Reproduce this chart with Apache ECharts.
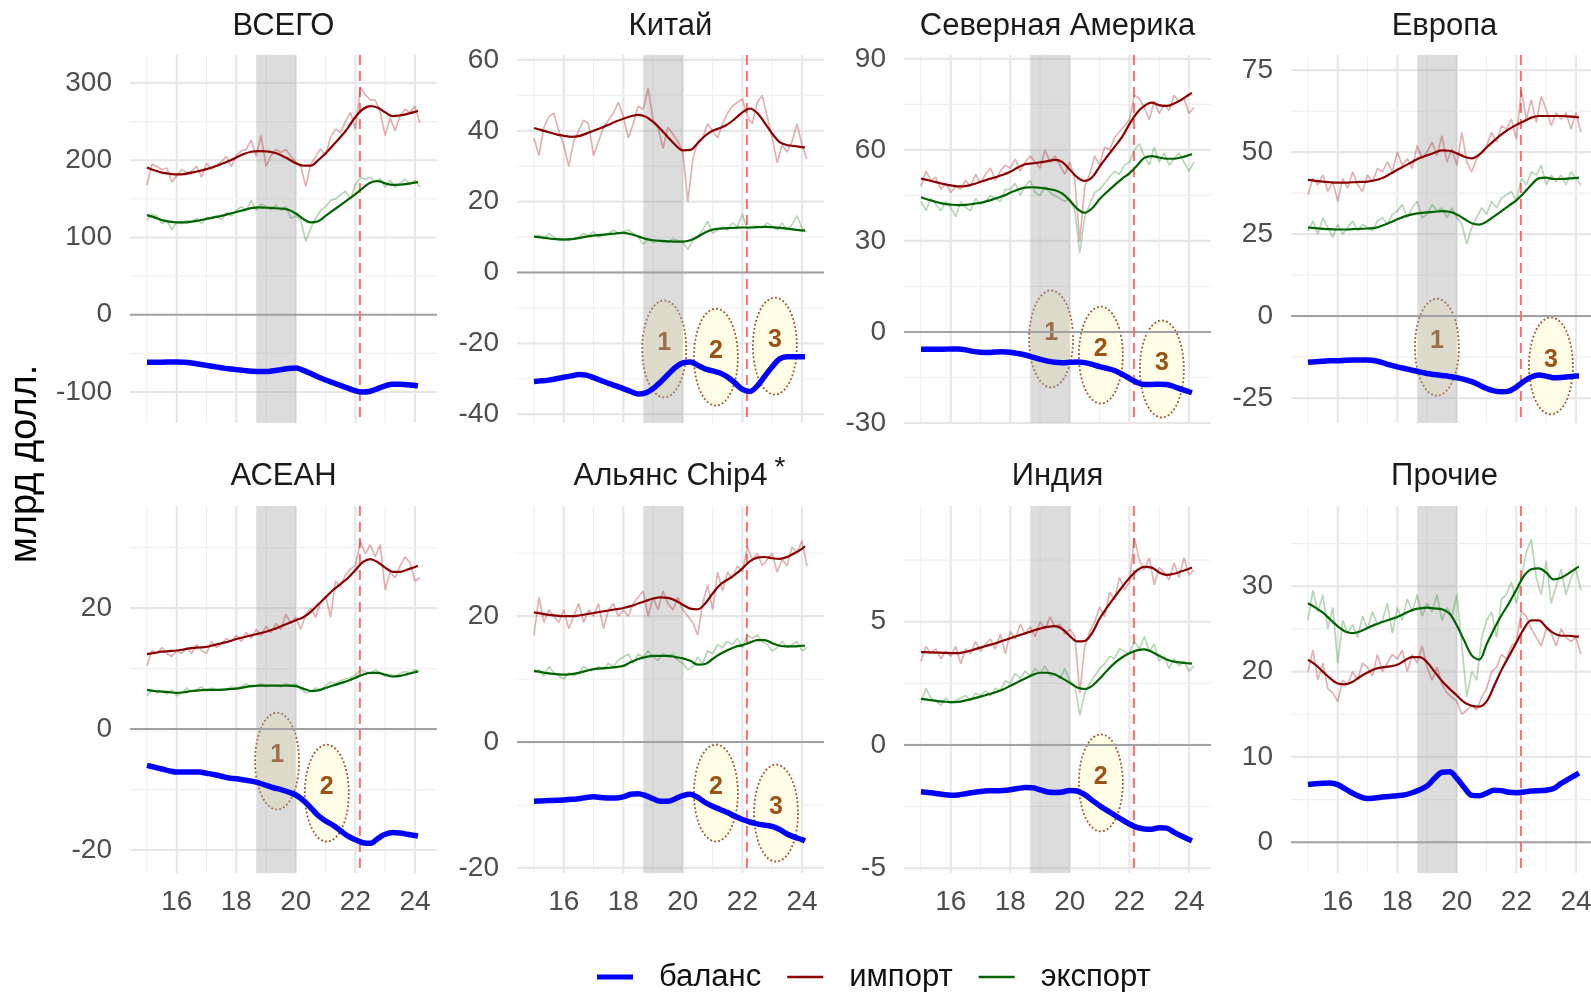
<!DOCTYPE html>
<html><head><meta charset="utf-8">
<script src="https://cdn.jsdelivr.net/npm/echarts@6/dist/echarts.min.js"></script>
<style>html,body{margin:0;padding:0;background:#fff;}#chart{width:1591px;height:992px;}</style>
</head><body><div id="chart"></div>
<script>
// ---------- shared axis data ----------
const X_MIN = 14.43, X_MAX = 24.74;
const SHADE_FROM = 18.67, SHADE_TO = 20.0, WAR_X = 22.15;
const gridYears = [15, 16, 17, 18, 19, 20, 21, 22, 23, 24];
const xTickLabels = [16, 18, 20, 22, 24];
// smoothed (trend) series knots, years 20xx
const knotX = [15, 15.25, 15.5, 15.75, 16, 16.25, 16.5, 16.75, 17, 17.25, 17.5, 17.75, 18, 18.25, 18.5, 18.75, 19, 19.25, 19.5, 19.75, 20, 20.25, 20.5, 20.75, 21, 21.25, 21.5, 21.75, 22, 22.25, 22.5, 22.75, 23, 23.25, 23.5, 23.75, 24, 24.1];
// raw (noisy) series: one reading every two months from Jan 2015
const RAW_START = 15, RAW_STEP = 1 / 6, RAW_COUNT = 56;

// ---------- ВСЕГО ----------
const totalImport = [190.7,187,184,182.5,181.7,182,184,186,188.5,191.5,195,199,203.6,208,211,211.8,211.4,210,206.6,201.5,196,193,193,200,209,219.5,230,242,256,266,270,268,262,257,258,260,262.6,264];
const totalExport = [129,126,122.5,120.5,119.5,119.5,120.5,122,124,126,128,130.5,133,135.5,138,139,138.5,138,137.5,136,131,124,119.5,121,128,135,142,149,156,164,171,173,170,168,168.5,169.5,171,172];
const totalBalance = [-61.5,-61.5,-61.5,-61,-61,-61.5,-62.5,-64,-65.5,-67,-68.5,-70,-71,-72,-73,-73.5,-73.5,-72.5,-71,-69.5,-69,-72,-76,-80.5,-84.5,-88,-91.5,-95,-98.5,-100,-99,-95.5,-92,-90,-90,-90.5,-91.5,-92];
const totalImportRaw = [168,195,192,188,190,172,180,188,184,186,192,178,196,188,194,198,205,192,206,212,214,226,205,232,192,206,214,210,214,205,198,192,166,195,205,215,206,230,240,236,250,262,240,294,285,278,278,262,232,255,238,258,266,262,270,248];
const totalExportRaw = [122,130,128,118,122,110,120,118,122,120,125,118,126,125,128,123,132,128,135,140,135,148,135,143,140,136,142,135,140,125,128,122,95,112,125,135,140,148,150,155,160,150,168,178,175,178,172,176,165,174,165,170,176,168,174,165];

// ---------- Китай ----------
const chinaImport = [40.8,40.2,39.6,39.0,38.6,38.3,38.5,39.2,40.0,40.8,41.7,42.6,43.4,44.1,44.5,44.0,42.5,40.5,38.2,36.0,34.5,34.6,36.5,38.6,40.0,40.8,41.8,43.4,45.2,46.3,45.0,42.2,39.2,36.8,36.0,35.7,35.4,35.3];
const chinaExport = [10.1,9.9,9.6,9.4,9.3,9.4,9.7,10.1,10.4,10.6,10.8,11.0,11.2,10.8,10.2,9.5,9.1,8.9,8.8,8.7,8.7,9.1,10.1,11.3,12.1,12.4,12.5,12.6,12.7,12.7,12.8,12.9,12.8,12.6,12.4,12.1,11.9,11.8];
const chinaBalance = [-30.8,-30.6,-30.4,-30.0,-29.6,-29.2,-28.8,-29.0,-29.7,-30.5,-31.3,-32.0,-32.8,-33.6,-34.3,-34.0,-32.8,-30.9,-28.8,-26.8,-25.5,-25.3,-26.2,-27.2,-27.8,-28.4,-29.5,-31.2,-33.0,-33.6,-32.0,-29.3,-26.6,-24.4,-23.8,-23.8,-23.8,-23.8];
const chinaImportRaw = [38,33,41,44,45,40,36,30,37,40,43,42,33,37,41,43,45,48,44,38,42,47,46,52,43,41,35,41,39,37,34,20,32,37,38,42,40,38,42,45,47,48,49,44,42,48,50,44,38,31,36,34,37,42,36,32];
const chinaExportRaw = [10,10.5,9.5,11,10,9,9.5,9,9.5,10,11,10.5,11.5,10,10.5,11,12,11,11.5,12,11,10,8,9.5,8.5,9,9,8.5,9.5,9,8.5,6.5,9,10,12,14.5,11,12,13,12,14,13,16.5,12,13,13,12.5,14,13,12,14,12,13.5,16,12.5,11.5];

// ---------- Северная Америка ----------
const naImport = [50.6,50.0,49.4,48.8,48.3,48.0,48.1,48.7,49.5,50.3,51.0,51.8,52.8,54.2,55.3,55.6,55.9,56.3,56.7,56.0,53.5,51.0,49.8,51.0,54.5,57.8,61.0,64.2,68.5,72.2,74.5,75.6,74.8,74.5,75.3,76.6,78.2,78.8];
const naExport = [44.4,43.6,42.9,42.3,42.0,41.8,41.9,42.2,42.6,43.2,44.0,44.8,45.9,46.9,47.6,47.7,47.5,47.2,46.7,45.6,43.3,40.6,39.3,40.8,43.8,46.2,48.4,50.5,52.3,54.8,57.4,58.0,57.5,57.1,57.1,57.6,58.3,58.7];
const naBalance = [-5.7,-5.7,-5.7,-5.7,-5.6,-5.6,-5.9,-6.4,-6.7,-6.8,-6.6,-6.5,-6.7,-7.1,-7.6,-8.3,-9.0,-9.6,-10.0,-10.1,-10.0,-9.9,-10.1,-10.7,-11.4,-12.0,-12.7,-13.9,-15.3,-16.6,-17.3,-17.3,-17.2,-17.3,-18.0,-18.9,-19.7,-20.0];
const naImportRaw = [48,53,50,51,47,49,46,48,47,50,48,52,49,52,54,50,53,55,54,57,53,56,58,56,54,60,56,58,55,52,56,50,30,48,52,58,55,61,60,64,66,68,70,78,77,74,70,76,72,75,73,78,76,77,72,74];
const naExportRaw = [43,40,44,42,40,43,41,38,43,41,40,44,42,43,45,44,43,47,47,49,45,48,50,46,45,48,46,45,44,43,44,40,26,38,42,46,47,49,51,53,52,55,56,60,62,58,55,61,56,59,55,57,59,56,53,56];

// ---------- Европа ----------
const euImport = [41.5,41.2,41.0,40.8,40.7,40.7,40.8,40.9,41.0,41.4,42.1,43.3,44.6,45.8,47.0,48.2,49.0,49.8,50.5,50.4,49.6,48.6,48.1,49.2,51.4,53.5,55.4,57.0,58.3,59.4,60.5,61.0,61.0,61.0,61.0,60.9,60.7,60.6];
const euExport = [27.0,26.8,26.6,26.5,26.4,26.4,26.5,26.6,26.7,26.9,27.6,28.5,29.5,30.4,31.0,31.4,31.6,31.8,32.0,31.8,31.0,29.6,28.3,27.9,28.8,30.4,32.0,33.7,35.3,37.5,40.0,42.0,42.2,41.8,41.8,41.9,42.1,42.2];
const euBalance = [-14.1,-13.9,-13.8,-13.6,-13.6,-13.5,-13.4,-13.4,-13.4,-13.6,-14.2,-14.9,-15.5,-16.0,-16.5,-17.0,-17.5,-17.8,-18.1,-18.4,-18.8,-19.3,-20.0,-21.0,-22.1,-22.8,-23.1,-22.9,-21.6,-19.9,-18.6,-18.0,-18.3,-18.8,-18.7,-18.5,-18.3,-18.3];
const euImportRaw = [37,42,40,43,38,41,35,42,39,44,40,38,43,41,45,44,47,44,50,46,48,45,52,48,50,53,49,55,47,51,46,56,47,44,48,50,52,56,53,58,57,60,54,69,60,66,59,67,63,58,62,60,62,57,62,56];
const euExportRaw = [26,29,25,30,27,24,28,25,27,29,26,28,27,26,29,30,28,31,32,34,30,33,35,30,31,34,32,33,30,33,30,28,22,27,30,33,31,35,33,36,37,38,35,42,40,44,43,46,40,43,41,43,40,44,42,40];

// ---------- АСЕАН ----------
const aseanImport = [12.4,12.6,12.8,12.9,13.0,13.2,13.4,13.5,13.6,13.9,14.2,14.5,14.9,15.2,15.5,15.8,16.1,16.5,17.0,17.5,18.0,18.5,19.4,20.6,21.8,23.0,24.0,25.0,26.3,27.6,28.1,27.6,26.7,26.0,26.0,26.4,26.8,27.0];
const aseanExport = [6.5,6.3,6.2,6.1,6.0,6.1,6.3,6.4,6.5,6.5,6.5,6.6,6.7,6.9,7.1,7.2,7.2,7.2,7.2,7.2,7.1,6.7,6.3,6.4,6.8,7.2,7.6,8.0,8.5,9.0,9.3,9.3,9.0,8.7,8.8,9.1,9.4,9.5];
const aseanBalance = [-6.0,-6.3,-6.6,-6.9,-7.1,-7.1,-7.1,-7.1,-7.3,-7.5,-7.8,-8.1,-8.2,-8.4,-8.6,-8.9,-9.3,-9.7,-10.0,-10.4,-10.9,-11.8,-13.0,-14.3,-15.2,-15.9,-16.8,-17.7,-18.3,-18.8,-18.9,-18.1,-17.4,-17.1,-17.2,-17.4,-17.6,-17.7];
const aseanImportRaw = [10.5,13,12.5,13.5,12.5,12,13,12.5,13.5,12.5,14,13,12.5,14.5,13.5,14,15,14.5,15.5,14.5,16,15,16.5,15.5,17,16,17.5,16.5,19,17.5,18.5,16.5,19,20,18.5,21,22,18.5,24.5,23.5,25.5,26.5,27,31,29,30.5,28.5,30.5,23,26,25,27,28.5,27.5,24.5,25];
const aseanExportRaw = [5.5,6.5,6,6.3,5.8,6.5,5.5,6,6.8,6.2,6.5,7,6.3,6.8,6.5,6.6,6.5,7,6.8,7,7.5,7,7.2,7.5,7,7.3,7.2,7,7.5,7.3,7.5,6.5,6,6.2,6.8,6.5,7.2,7.8,7.5,8,8.3,8.5,9,9.8,9.5,9.2,9.8,9.3,8.7,9,8.8,9.2,9.5,9.3,9.8,9.5];

// ---------- Альянс Chip4 ----------
const chipImport = [20.6,20.4,20.2,20.1,20.0,20.0,20.1,20.3,20.5,20.7,20.9,21.1,21.3,21.6,22.0,22.4,22.8,23.0,22.9,22.5,21.8,21.2,21.1,22.0,23.6,25.0,25.8,26.6,27.6,28.7,29.3,29.4,29.2,29.1,29.4,30.0,30.7,31.1];
const chipExport = [11.3,11.1,10.9,10.8,10.7,10.8,11.0,11.3,11.6,11.7,11.8,11.9,12.1,12.7,13.2,13.5,13.7,13.7,13.7,13.5,13.3,12.9,12.3,12.4,13.2,14.0,14.6,15.1,15.4,15.8,16.2,16.2,15.7,15.3,15.2,15.2,15.3,15.3];
const chipBalance = [-9.4,-9.35,-9.3,-9.25,-9.2,-9.1,-9.0,-8.8,-8.7,-8.8,-8.9,-8.9,-8.7,-8.3,-8.2,-8.5,-9.0,-9.4,-9.4,-9.0,-8.5,-8.3,-8.8,-9.6,-10.2,-10.7,-11.2,-11.8,-12.3,-12.7,-13.0,-13.2,-13.4,-13.9,-14.6,-15.1,-15.5,-15.7];
const chipImportRaw = [17,23,19,21,20,19,21,18,20,22,19,21,20,22,18,21,22,20,21,20,22,23,24,20,23,21,24,22,21,23,21,20,19,17,22,25,21,27,24,27,26,28,27,31,29,30,28,29,30,27,29,28,31,30,32,28];
const chipExportRaw = [11,11.5,10.5,12,11,10.5,10,11,10.5,11,12,11.5,11.5,12,11.5,12.5,12,13,13.5,14,12.5,14,13.5,14.5,13.5,13,14,13.5,14,13,12.5,11.5,12,13.5,12.5,14.5,14,15.5,15,16,15.5,16.5,15,17,16.5,17,16,15.5,14.5,15,16,15,15.5,16,14.5,15];

// ---------- Индия ----------
const indiaImport = [3.77,3.76,3.75,3.74,3.73,3.73,3.78,3.86,3.95,4.04,4.13,4.23,4.33,4.43,4.53,4.63,4.72,4.79,4.82,4.70,4.42,4.20,4.22,4.55,5.13,5.58,6.0,6.4,6.78,7.08,7.23,7.20,7.0,6.9,6.95,7.05,7.15,7.2];
const indiaExport = [1.87,1.83,1.79,1.76,1.74,1.75,1.81,1.88,1.96,2.05,2.14,2.25,2.40,2.55,2.70,2.84,2.93,2.93,2.86,2.70,2.52,2.33,2.27,2.40,2.69,3.02,3.32,3.55,3.72,3.84,3.88,3.78,3.62,3.47,3.38,3.34,3.31,3.3];
const indiaBalance = [-1.90,-1.93,-1.97,-2.01,-2.04,-2.03,-1.98,-1.93,-1.89,-1.86,-1.86,-1.85,-1.82,-1.77,-1.73,-1.74,-1.82,-1.91,-1.93,-1.91,-1.85,-1.87,-2.02,-2.25,-2.47,-2.66,-2.85,-3.03,-3.21,-3.35,-3.41,-3.42,-3.36,-3.38,-3.55,-3.7,-3.84,-3.89];
const indiaImportRaw = [3.4,4.0,3.7,3.9,3.5,3.8,3.6,4.0,3.3,3.9,3.7,4.2,3.8,4.1,4.3,3.9,4.5,3.7,4.6,4.3,4.9,4.5,4.8,4.4,5.0,4.7,5.2,4.8,4.9,4.5,4.7,4.4,2.1,4.0,4.6,5.0,5.6,5.2,6.2,5.9,6.8,6.3,6.6,8.4,7.5,7.1,7.6,6.5,7.2,7.0,6.7,7.4,6.8,7.6,6.9,7.1];
const indiaExportRaw = [1.7,2.3,1.9,1.8,1.6,1.9,1.7,1.8,1.9,2.0,1.8,2.1,2.0,2.2,2.0,2.3,2.2,2.6,2.5,2.9,2.7,3.0,2.8,3.1,2.9,3.2,2.8,2.9,2.7,3.1,2.6,2.4,1.2,2.1,2.5,2.8,3.1,3.3,3.6,3.5,3.9,3.8,3.7,4.2,3.9,4.4,3.8,4.1,3.4,3.6,3.1,3.5,3.2,3.4,3.0,3.2];

// ---------- Прочие ----------
const otherImport = [21.4,20.8,20.0,19.2,18.6,18.5,18.8,19.4,19.9,20.3,20.5,20.6,20.8,21.3,21.7,21.7,21.1,20.0,18.9,18.0,17.2,16.4,16.0,15.9,16.5,18.3,20.2,21.8,23.4,25.0,26.0,26.0,25.2,24.5,24.2,24.2,24.1,24.1];
const otherExport = [28.0,27.5,26.9,26.1,25.3,24.7,24.5,24.7,25.1,25.5,25.8,26.1,26.4,26.8,27.2,27.4,27.5,27.4,27.3,26.8,25.4,23.6,21.9,21.4,23.2,25.0,26.6,28.0,29.6,31.2,32.0,32.1,31.6,30.8,31.0,31.5,32.1,32.3];
const otherBalance = [6.76,6.85,6.92,6.95,6.75,6.25,5.75,5.35,5.12,5.2,5.3,5.38,5.45,5.55,5.8,6.15,6.6,7.5,8.2,8.25,7.5,6.4,5.5,5.45,5.75,6.1,6.05,5.85,5.8,5.9,6.0,6.05,6.1,6.3,6.9,7.4,7.9,8.1];
const otherImportRaw = [20,22.5,19,21,18,17.5,16.5,19,18.5,20,19,21,20.5,19.5,22,20,21,22,21.5,22.5,20,22,21,23,20.5,19,20.5,18.5,17.5,17,16.5,15,15.5,16,15.5,17,18,20,20.5,22,21.5,23,23.5,27,26.5,25,24,23,25,24.5,23,25,24,23.5,24,22];
const otherExportRaw = [26,29.5,27,29,25,27.5,21,26,24.5,25.5,24,26.5,25,27,25.5,26,28,24.5,27.5,26,28.5,27,29,26.5,28,27,29,26,27.5,26.5,29,23,17,20,19,24,26,27,24,28.5,29,30.5,28,31,34,35.5,31,29,33,28,30,32,29,31,32,29.5];

// ---------- panel titles, y ticks, annotations [year, value, number] ----------
const panelTitles = ['ВСЕГО', 'Китай', 'Северная Америка', 'Европа', 'АСЕАН', 'Альянс Chip4', 'Индия', 'Прочие'];
const yTicks = [[-100,0,100,200,300], [-40,-20,0,20,40,60], [-30,0,30,60,90], [-25,0,25,50,75], [-20,0,20], [-20,0,20], [-5,0,5], [0,10,20,30]];
const yRanges = [[-140.1,336.2], [-42.5,61.4], [-30,91.3], [-32.6,79.6], [-23.8,36.9], [-20.8,37.5], [-5.2,9.7], [-3.6,39.4]];
const totalMarks = [];
const chinaMarks = [[19.375,-21.6,1],[21.11,-23.9,2],[23.09,-20.8,3]];
const naMarks = [[19.37,-2.3,1],[21.04,-7.6,2],[23.09,-12.2,3]];
const euMarks = [[19.33,-9.5,1],[23.16,-15.2,3]];
const aseanMarks = [[19.37,-5.3,1],[21.04,-10.6,2]];
const chipMarks = [[21.11,-8.1,2],[23.13,-11.3,3]];
const indiaMarks = [[21.04,-1.54,2]];
const otherMarks = [];

const panels = [
  {imp: totalImport, exp: totalExport, bal: totalBalance, impRaw: totalImportRaw, expRaw: totalExportRaw, marks: totalMarks},
  {imp: chinaImport, exp: chinaExport, bal: chinaBalance, impRaw: chinaImportRaw, expRaw: chinaExportRaw, marks: chinaMarks},
  {imp: naImport, exp: naExport, bal: naBalance, impRaw: naImportRaw, expRaw: naExportRaw, marks: naMarks},
  {imp: euImport, exp: euExport, bal: euBalance, impRaw: euImportRaw, expRaw: euExportRaw, marks: euMarks},
  {imp: aseanImport, exp: aseanExport, bal: aseanBalance, impRaw: aseanImportRaw, expRaw: aseanExportRaw, marks: aseanMarks},
  {imp: chipImport, exp: chipExport, bal: chipBalance, impRaw: chipImportRaw, expRaw: chipExportRaw, marks: chipMarks},
  {imp: indiaImport, exp: indiaExport, bal: indiaBalance, impRaw: indiaImportRaw, expRaw: indiaExportRaw, marks: indiaMarks},
  {imp: otherImport, exp: otherExport, bal: otherBalance, impRaw: otherImportRaw, expRaw: otherExportRaw, marks: otherMarks}
];

// ---------- layout & style ----------
const FONT = '"Liberation Sans", Arial, Helvetica, sans-serif';
const colLeft = [130, 517, 904, 1291];
const rowTop = [55, 506];
const plotW = 307, plotH = [368, 367];
const titleY = [26, 476];
const C_BAL = '#0000ff', C_IMP = '#8b0000', C_EXP = '#006400';
const C_IMP_RAW = 'rgba(170,30,30,0.34)', C_EXP_RAW = 'rgba(30,130,30,0.32)';

const rawX = Array.from({length: RAW_COUNT}, (_, k) => RAW_START + k * RAW_STEP);

function gridItems(i) {
  const items = [];
  gridYears.forEach(y => items.push([y, 0, y % 2 === 0 ? 1 : 0]));
  const t = yTicks[i], r = yRanges[i];
  const step = t[1] - t[0];
  t.forEach(v => items.push([v, 1, 1]));
  const minors = [t[0] - step / 2];
  for (let j = 0; j < t.length; j++) minors.push(t[j] + step / 2);
  minors.forEach(v => { if (v > r[0] && v < r[1]) items.push([v, 1, 0]); });
  return items;
}

function renderGridline(params, api) {
  const cs = params.coordSys;
  const v = api.value(0), orient = api.value(1), major = api.value(2);
  const style = major ? {stroke: '#e7e7e7', lineWidth: 2.2} : {stroke: '#f0f0f0', lineWidth: 1.2};
  if (orient === 0) {
    const x = api.coord([v, 0])[0];
    return {type: 'line', shape: {x1: x, y1: cs.y, x2: x, y2: cs.y + cs.height}, style};
  }
  const y = api.coord([15, v])[1];
  return {type: 'line', shape: {x1: cs.x, y1: y, x2: cs.x + cs.width, y2: y}, style};
}

function renderEllipse(params, api) {
  const c = api.coord([api.value(0), api.value(1)]);
  const pts = [];
  for (let k = 0; k < 72; k++) {
    const a = k / 72 * Math.PI * 2;
    pts.push([c[0] + 22 * Math.cos(a), c[1] + 48.5 * Math.sin(a)]);
  }
  return {type: 'group', children: [
    {type: 'polygon', shape: {points: pts}, style: {fill: 'rgba(255,253,226,0.9)', stroke: '#a0522d', lineWidth: 1.8, lineDash: [1.8, 2.3]}},
    {type: 'text', x: c[0], y: c[1] - 6, style: {text: String(api.value(2)), fill: '#9b5316', fontSize: 25, fontWeight: 'bold', fontFamily: FONT, align: 'center', verticalAlign: 'middle'}}
  ]};
}

function renderDecor(params, api) {
  const cs = params.coordSys;
  const x0 = api.coord([SHADE_FROM, 0])[0], x1 = api.coord([SHADE_TO, 0])[0];
  const zy = api.coord([15, 0])[1];
  const wx = api.coord([WAR_X, 0])[0];
  return {type: 'group', children: [
    {type: 'rect', shape: {x: x0, y: cs.y, width: x1 - x0, height: cs.height}, style: {fill: 'rgba(160,160,160,0.37)'}},
    {type: 'line', shape: {x1: cs.x, y1: zy, x2: cs.x + cs.width, y2: zy}, style: {stroke: '#a2a2a2', lineWidth: 2}},
    {type: 'line', shape: {x1: wx, y1: cs.y, x2: wx, y2: cs.y + cs.height}, style: {stroke: '#ff6e6e', lineWidth: 2, lineDash: [10, 6]}}
  ]};
}

function lineSeries(name, xs, ys, color, width, z, idx, smooth) {
  return {type: 'line', name, xAxisIndex: idx, yAxisIndex: idx, z,
    data: xs.map((x, k) => [x, ys[k]]), showSymbol: false, symbol: 'none', smooth,
    lineStyle: {color, width}, itemStyle: {color}, emphasis: {disabled: true}, silent: true};
}

const grids = [], xAxes = [], yAxes = [], series = [], graphics = [];
panels.forEach((p, i) => {
  const row = Math.floor(i / 4), col = i % 4;
  grids.push({left: colLeft[col], top: rowTop[row], width: plotW, height: plotH[row], containLabel: false, outerBoundsMode: 'none'});
  xAxes.push({type: 'value', gridIndex: i, min: X_MIN, max: X_MAX,
    axisLine: {show: false}, axisTick: {show: false}, splitLine: {show: false},
    axisLabel: row === 1 ? {show: true, customValues: xTickLabels, fontSize: 28, color: '#4d4d4d', fontFamily: FONT, margin: 15} : {show: false}});
  yAxes.push({type: 'value', gridIndex: i, min: yRanges[i][0], max: yRanges[i][1],
    axisLine: {show: false}, axisTick: {show: false}, splitLine: {show: false},
    axisLabel: {show: true, customValues: yTicks[i], fontSize: 28, color: '#4d4d4d', fontFamily: FONT, margin: 18}});
  const ax = {xAxisIndex: i, yAxisIndex: i};
  series.push(Object.assign({type: 'custom', z: 1, silent: true, clip: false, renderItem: renderGridline, data: gridItems(i)}, ax));
  if (p.marks.length) series.push(Object.assign({type: 'custom', z: 2, silent: true, clip: false, renderItem: renderEllipse, data: p.marks}, ax));
  series.push(Object.assign({type: 'custom', z: 3, silent: true, clip: false, renderItem: renderDecor, data: [[SHADE_FROM, 0]]}, ax));
  series.push(lineSeries('импорт, мес.', rawX, p.impRaw, C_IMP_RAW, 1.7, 4, i, false));
  series.push(lineSeries('экспорт, мес.', rawX, p.expRaw, C_EXP_RAW, 1.7, 4, i, false));
  series.push(lineSeries('импорт', knotX, p.imp, C_IMP, 2.2, 5, i, 0.35));
  series.push(lineSeries('экспорт', knotX, p.exp, C_EXP, 2.2, 5, i, 0.35));
  series.push(lineSeries('баланс', knotX, p.bal, C_BAL, 5.5, 6, i, 0.35));
  const cx = colLeft[col] + plotW / 2;
  graphics.push({type: 'text', x: cx, y: titleY[row],
    style: {text: panelTitles[i], fontSize: 31, fontFamily: FONT, fill: '#1a1a1a', align: 'center', verticalAlign: 'middle'}});
});
graphics.push({type: 'text', x: 780, y: 468, style: {text: '*', fontSize: 28, fontFamily: FONT, fill: '#1a1a1a', align: 'center', verticalAlign: 'middle'}});
graphics.push({type: 'text', x: 26, y: 464, rotation: Math.PI / 2,
  style: {text: 'млрд долл.', fontSize: 38, fontFamily: FONT, fill: '#000', align: 'center', verticalAlign: 'middle'}});

const chart = echarts.init(document.getElementById('chart'), null, {renderer: 'canvas'});
chart.setOption({
  animation: false,
  backgroundColor: '#fff',
  grid: grids, xAxis: xAxes, yAxis: yAxes, series,
  graphic: {elements: graphics},
  legend: {
    left: 597, top: 959, padding: 0, itemGap: 26, itemWidth: 36, itemHeight: 5, selectedMode: false,
    textStyle: {fontSize: 31, fontFamily: FONT, color: '#111', padding: [0, 0, 0, 21], lineHeight: 36},
    data: [
      {name: 'баланс', icon: 'rect'},
      {name: 'импорт', icon: 'path://M0,0h36v2.4h-36z'},
      {name: 'экспорт', icon: 'path://M0,0h36v2.4h-36z'}
    ]
  }
});
</script></body></html>
